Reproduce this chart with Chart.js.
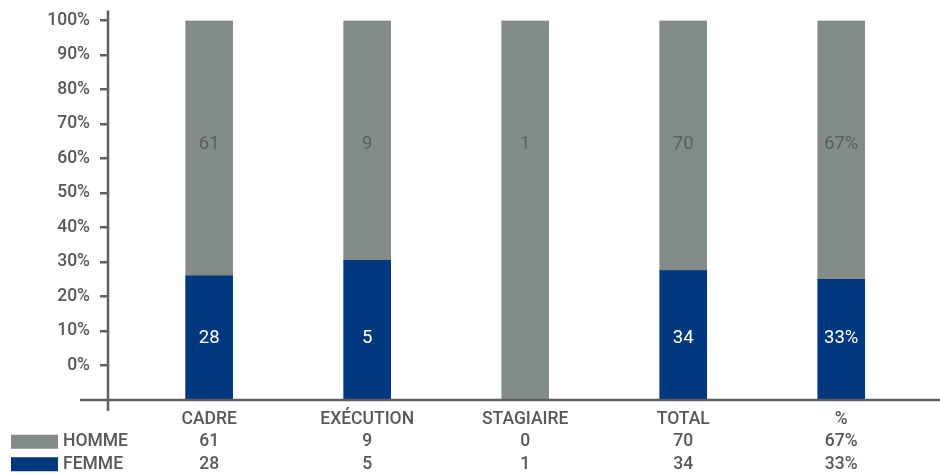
<!DOCTYPE html>
<html>
<head>
<meta charset="utf-8">
<script src="https://cdn.jsdelivr.net/npm/chart.js@4/dist/chart.umd.min.js"></script>
<style>
  html, body { margin: 0; padding: 0; background: #fff; }
  #wrap { width: 940px; height: 473px; position: relative; }
</style>
</head>
<body>
<div id="wrap"><canvas id="chart"></canvas></div>
<script>
// categories and table values
const categories = ["CADRE", "EXÉCUTION", "STAGIAIRE", "TOTAL", "%"];
const hommeTable = ["61", "9", "0", "70", "67%"];
const femmeTable = ["28", "5", "1", "34", "33%"];

// labels written inside the bars
const hommeBarLabels = ["61", "9", "1", "70", "67%"];
const femmeBarLabels = ["28", "5", "", "34", "33%"];

// height of the blue part as drawn (percent of axis)
const femmeShare = [26, 30.5, null, 27.5, 25];

const yTicks = [0, 10, 20, 30, 40, 50, 60, 70, 80, 90, 100];
const AXIS_MIN = -10;
const AXIS_MAX = 100;

const GREY = "#848c88";
const BLUE = "#00387f";
const TEXT = "#585858";
const AXIS = "#606060";
const FONT = "Roboto, 'Liberation Sans', sans-serif";
const LINE_H = 22.5;
const X_PAD = 8;

// floating bars: blue from axis bottom up to share, grey from there to 100
const femmeData = femmeShare
  .map((v, i) => ({ x: i, y: [AXIS_MIN, v] }))
  .filter((d) => d.y[1] != null);
const hommeData = femmeShare.map((v, i) => ({ x: i, y: [v == null ? AXIS_MIN : v, AXIS_MAX] }));

const tickLabels = categories.map((c, i) => [c, hommeTable[i], femmeTable[i]]);

const barLabels = {
  id: "barLabels",
  afterDatasetsDraw(chart) {
    const { ctx, scales: { x, y } } = chart;
    ctx.save();
    ctx.textAlign = "center";
    ctx.textBaseline = "middle";
    ctx.font = "18.5px " + FONT;
    categories.forEach((c, i) => {
      const px = x.getPixelForValue(i);
      ctx.fillStyle = "#5b615e";
      ctx.fillText(hommeBarLabels[i], px, y.getPixelForValue(64.2));
      if (femmeBarLabels[i]) {
        ctx.fillStyle = "#ffffff";
        ctx.fillText(femmeBarLabels[i], px, y.getPixelForValue(8));
      }
    });
    ctx.restore();
  }
};

const axisAndLegend = {
  id: "axisAndLegend",
  afterDraw(chart) {
    const { ctx, chartArea } = chart;
    const bottom = chartArea.bottom;
    ctx.save();
    // x axis line, running a bit left of the y axis
    ctx.strokeStyle = AXIS;
    ctx.lineWidth = 2.5;
    ctx.beginPath();
    ctx.moveTo(80, bottom);
    ctx.lineTo(chart.width, bottom);
    ctx.stroke();
    // y axis running a bit below the x axis
    ctx.beginPath();
    ctx.moveTo(chartArea.left, chartArea.top - 10);
    ctx.lineTo(chartArea.left, bottom + 11);
    ctx.stroke();

    // legend rows beside the table
    const rows = [["HOMME", GREY], ["FEMME", BLUE]];
    ctx.font = "500 17.5px " + FONT;
    ctx.textBaseline = "middle";
    ctx.textAlign = "left";
    rows.forEach((r, k) => {
      const cy = bottom + X_PAD + LINE_H * (k + 1.5);
      ctx.fillStyle = r[1];
      ctx.fillRect(11, cy - 7, 47, 14);
      ctx.fillStyle = TEXT;
      ctx.fillText(r[0], 63, cy);
    });
    ctx.restore();
  }
};

new Chart(document.getElementById("chart"), {
  type: "bar",
  data: {
    datasets: [
      { label: "FEMME", data: femmeData, backgroundColor: BLUE, barThickness: 47 },
      { label: "HOMME", data: hommeData, backgroundColor: GREY, barThickness: 47 }
    ]
  },
  options: {
    responsive: true,
    maintainAspectRatio: false,
    animation: false,
    layout: { padding: { top: 20, left: 0, right: 0, bottom: 0 } },
    plugins: {
      legend: { display: false },
      tooltip: { enabled: false }
    },
    scales: {
      x: {
        type: "linear",
        stacked: true,
        offset: false,
        min: -0.64,
        max: 4.625,
        afterBuildTicks: (scale) => {
          scale.ticks = categories.map((c, i) => ({ value: i }));
        },
        afterFit: (scale) => { scale.height = 73; },
        grid: { display: false, drawTicks: false },
        border: { display: false },
        ticks: {
          padding: X_PAD,
          color: TEXT,
          font: { family: FONT, size: 17.5, weight: 500, lineHeight: LINE_H / 17.5 },
          maxRotation: 0,
          autoSkip: false,
          callback: (v) => tickLabels[v] || ""
        }
      },
      y: {
        stacked: false,
        min: AXIS_MIN,
        max: AXIS_MAX,
        afterBuildTicks: (scale) => {
          scale.ticks = yTicks.map((v) => ({ value: v }));
        },
        afterFit: (scale) => { scale.width = 108; },
        grid: {
          drawOnChartArea: false,
          drawTicks: true,
          tickLength: 8,
          lineWidth: 2.5,
          color: AXIS
        },
        border: { display: false },
        ticks: {
          padding: 10,
          color: TEXT,
          font: { family: FONT, size: 17.5, weight: 500 },
          callback: (v) => v + "%"
        }
      }
    }
  },
  plugins: [barLabels, axisAndLegend]
});
</script>
</body>
</html>
